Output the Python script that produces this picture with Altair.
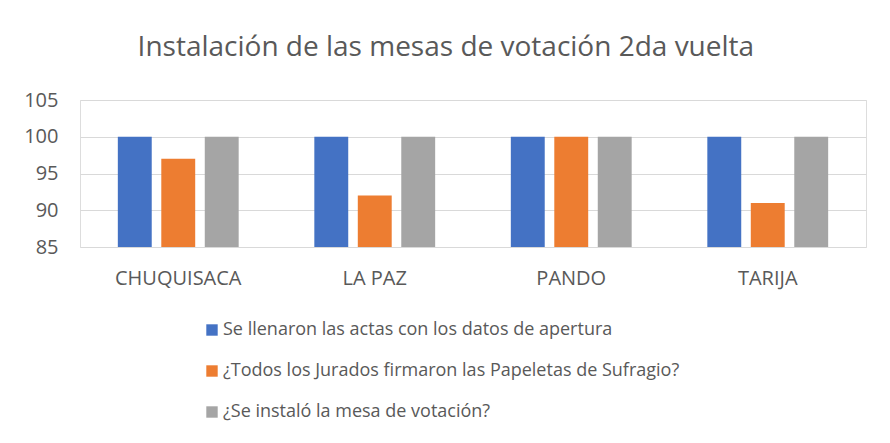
import altair as alt
import pandas as pd

categories = ["CHUQUISACA", "LA PAZ", "PANDO", "TARIJA"]
series = [
    "Se llenaron las actas con los datos de apertura",
    "¿Todos los Jurados firmaron las Papeletas de Sufragio?",
    "¿Se instaló la mesa de votación?",
]
actas = [100, 100, 100, 100]
jurados = [97, 92, 100, 91]
instalo = [100, 100, 100, 100]
colors = ["#4472C4", "#ED7D31", "#A5A5A5"]

rows = []
for s, vals in zip(series, [actas, jurados, instalo]):
    for c, v in zip(categories, vals):
        rows.append({"Departamento": c, "Serie": s, "Valor": v})
df = pd.DataFrame(rows)

FONT = "Open Sans"
TXT = "#595959"

chart = (
    alt.Chart(df)
    .mark_bar(clip=True)
    .encode(
        x=alt.X(
            "Departamento:N",
            sort=categories,
            title=None,
            scale=alt.Scale(paddingInner=0.385, paddingOuter=0.1925),
            axis=alt.Axis(
                labelAngle=0, ticks=False, domain=False, labelFontSize=20,
                labelColor=TXT, labelFont=FONT, labelPadding=21,
            ),
        ),
        xOffset=alt.XOffset("Serie:N", sort=series, scale=alt.Scale(paddingInner=0.22, paddingOuter=0)),
        y=alt.Y(
            "Valor:Q",
            title=None,
            scale=alt.Scale(domain=[85, 105], zero=False, nice=False),
            axis=alt.Axis(
                values=[85, 90, 95, 100, 105], ticks=False, domain=False,
                labelFontSize=20, labelColor=TXT, labelFont=FONT, labelPadding=22,
                gridColor="#D9D9D9", gridWidth=1,
            ),
        ),
        color=alt.Color(
            "Serie:N",
            sort=series,
            scale=alt.Scale(domain=series, range=colors),
            legend=alt.Legend(
                title=None, orient="none", legendX=123, legendY=221,
                direction="vertical", symbolType="square", symbolSize=130,
                symbolStrokeWidth=0, labelFontSize=18, labelColor=TXT,
                labelFont=FONT, rowPadding=23, labelLimit=700, symbolOffset=0,
                labelOffset=2,
            ),
        ),
    )
    .properties(
        width=786,
        height=147,
        title=alt.Title(
            "Instalación de las mesas de votación 2da vuelta",
            fontSize=28, font=FONT, color=TXT, fontWeight="normal",
            anchor="middle", frame="bounds", offset=28, dx=1,
        ),
        autosize=alt.AutoSizeParams(type="none"),
        padding={"left": 72, "top": 92, "right": 16, "bottom": 188},
    )
    .configure_view(stroke=None)
    .configure(background="white")
)

chart.save("out.html", embed_options={"renderer": "svg", "actions": False})
